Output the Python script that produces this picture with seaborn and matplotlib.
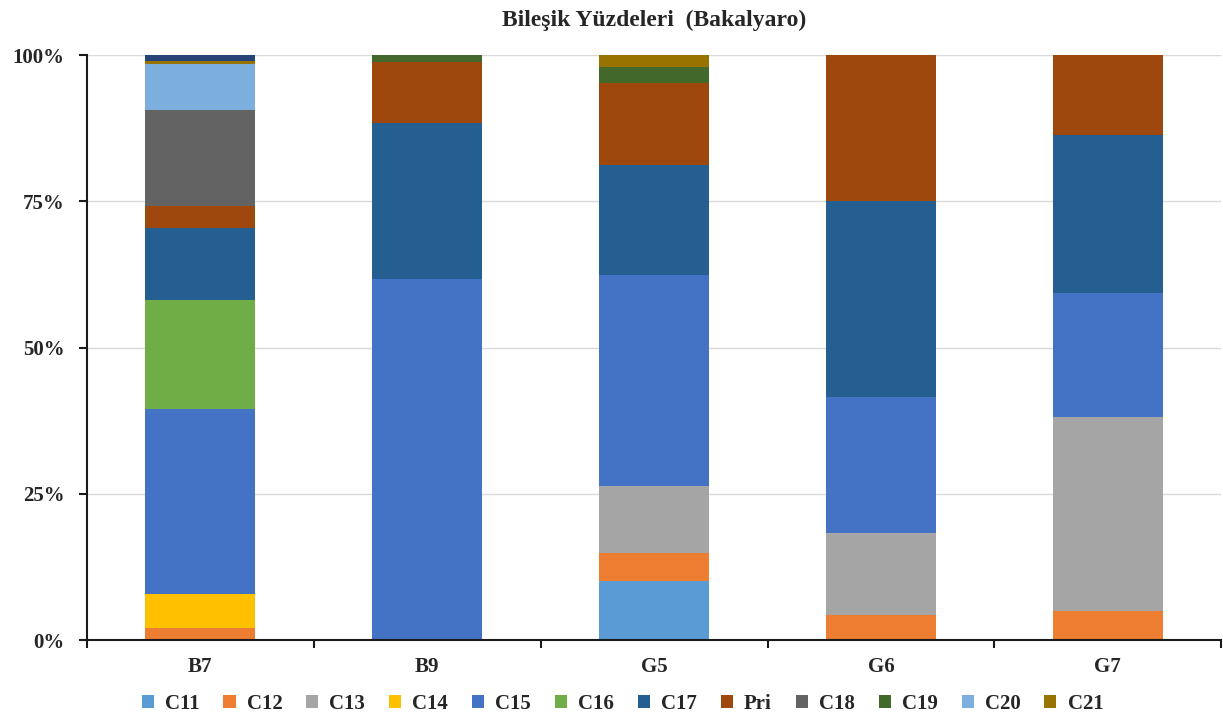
import numpy as np
import pandas as pd
import matplotlib
matplotlib.use("Agg")
import matplotlib.pyplot as plt
import seaborn as sns
from matplotlib.patches import Patch
from matplotlib.ticker import FixedLocator, PercentFormatter

sns.set_style("white")
plt.rcParams['font.family'] = ['Liberation Serif', 'DejaVu Serif']
plt.rcParams['font.weight'] = 'bold'

# 数据（百分比，从图上读取）
samples = ["B7", "B9", "G5", "G6", "G7"]
compounds = ["C11", "C12", "C13", "C14", "C15", "C16", "C17", "Pri", "C18", "C19", "C20", "C21", "C22"]
C11 = [0, 0, 10.1, 0, 0]
C12 = [2.1, 0, 4.8, 4.3, 5.0]
C13 = [0, 0, 11.4, 14.0, 33.1]
C14 = [5.8, 0, 0, 0, 0]
C15 = [31.6, 61.7, 36.1, 23.2, 21.2]
C16 = [18.6, 0, 0, 0, 0]
C17 = [12.3, 26.7, 18.8, 33.5, 27.0]
Pri = [3.8, 10.35, 14.1, 25.0, 13.7]
C18 = [16.4, 0, 0, 0, 0]
C19 = [0, 1.25, 2.7, 0, 0]
C20 = [7.9, 0, 0, 0, 0]
C21 = [0.5, 0, 2.0, 0, 0]
C22 = [1.0, 0, 0, 0, 0]  # 图例中未显示

colors = ["#5B9BD5", "#ED7D31", "#A5A5A5", "#FFC000", "#4472C4", "#70AD47",
          "#255E91", "#9E480E", "#636363", "#43682B", "#7CAFDD", "#997300", "#264478"]
legend_items = compounds[:12]

df = pd.DataFrame([C11, C12, C13, C14, C15, C16, C17, Pri, C18, C19, C20, C21, C22],
                  index=compounds, columns=samples).T
df = df.div(df.sum(axis=1), axis=0) * 100
cum = df.cumsum(axis=1)

fig = plt.figure(figsize=(12.23, 7.2), dpi=100)
ax = fig.add_axes([0.0711, 0.111, 0.9275, 0.8125])

# 从上往下叠加绘制累计值
for name, col in zip(compounds[::-1], colors[::-1]):
    plot_df = pd.DataFrame({"样品": samples, "值": cum[name].values})
    sns.barplot(data=plot_df, x="样品", y="值", color=col, width=0.485,
                saturation=1, ax=ax, linewidth=0, order=samples)

ax.set_ylim(0, 100)
ax.set_xlim(-0.5, 4.5)
ax.yaxis.set_major_locator(FixedLocator([0, 25, 50, 75, 100]))
ax.yaxis.set_major_formatter(PercentFormatter(decimals=0))
ax.grid(axis="y", color="#D9D9D9", linewidth=1)
ax.set_axisbelow(True)
ax.set_xlabel("")
ax.set_ylabel("")

for s in ["top", "right"]:
    ax.spines[s].set_visible(False)
for s in ["left", "bottom"]:
    ax.spines[s].set_color("#1a1a1a")
    ax.spines[s].set_linewidth(1.5)

ax.tick_params(axis="y", which="major", length=6, width=1.5, color="#1a1a1a",
               labelsize=15, pad=10, left=True)
ax.tick_params(axis="x", which="major", length=0, labelsize=15, pad=12)
ax.xaxis.set_minor_locator(FixedLocator([-0.5, 0.5, 1.5, 2.5, 3.5, 4.5]))
ax.tick_params(axis="x", which="minor", length=6, width=1.5, color="#1a1a1a", bottom=True)
for lab in ax.get_xticklabels() + ax.get_yticklabels():
    lab.set_fontweight("bold")

ax.set_title("Bileşik Yüzdeleri  (Bakalyaro)", fontsize=17, fontweight="bold", pad=21)

handles = [Patch(facecolor=c, edgecolor="none") for c in colors[:12]]
fig.legend(handles, legend_items, loc="center", bbox_to_anchor=(0.509, 0.022), ncol=12,
           frameon=False, handlelength=0.58, handleheight=0.58,
           handletextpad=0.53, columnspacing=1.15, prop={"weight": "bold", "size": 15})

fig.savefig("out.png", dpi=100)
